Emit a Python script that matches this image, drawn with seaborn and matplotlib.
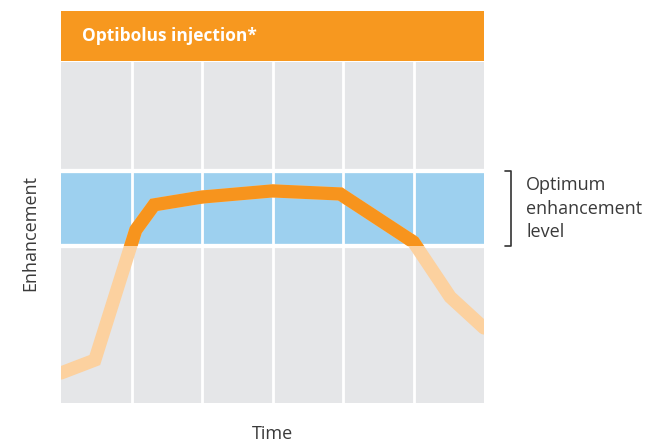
import matplotlib.pyplot as plt
import seaborn as sns
import pandas as pd

# curve (time in grid columns, enhancement 0-100)
time = [0, 0.48, 1.06, 1.32, 2.0, 3.0, 3.96, 5.0, 5.52, 6.0]
enhancement = [8.8, 12.6, 50.7, 58.1, 60.4, 62.2, 61.3, 47.2, 31.1, 22.0]
band_low, band_high = 46, 68
grid_x = [1, 2, 3, 4, 5]
header_text = "Optibolus injection*"
band_label = "Optimum\nenhancement\nlevel"

df = pd.DataFrame({"time": time, "enhancement": enhancement})

sns.set_style("white", {"axes.facecolor": "#e5e6e8"})
plt.rcParams["font.family"] = ["Open Sans", "DejaVu Sans"]

fig = plt.figure(figsize=(6.56, 4.46), dpi=100)
ax = fig.add_axes([61 / 656, 1 - 403 / 446, 423 / 656, 341 / 446])
head = fig.add_axes([61 / 656, 1 - 61 / 446, 423 / 656, 50 / 446])

# header bar
head.set_facecolor("#f7981f")
head.set_xticks([])
head.set_yticks([])
for s in head.spines.values():
    s.set_visible(False)
head.text(0.05, 0.5, header_text, color="white", fontsize=12.5,
          fontweight="bold", va="center", ha="left", transform=head.transAxes)

# optimum band
band = ax.axhspan(band_low, band_high, color="#9dd0ef", zorder=1)
for xv in grid_x:
    ax.axvline(xv, color="white", lw=2, zorder=2)
for yv in [band_low, band_high]:
    ax.axhline(yv, color="white", lw=3.1, zorder=2)

# light curve everywhere, dark curve inside the band
sns.lineplot(data=df, x="time", y="enhancement", ax=ax, color="#fcd19f",
             lw=9.5, zorder=3, sort=False)
sns.lineplot(data=df, x="time", y="enhancement", ax=ax, color="#f7941d",
             lw=9.5, zorder=4, sort=False)
for ln in ax.lines[-2:]:
    ln.set_solid_joinstyle("miter")
ax.lines[-1].set_clip_path(band)

ax.set_xlim(0, 6)
ax.set_ylim(0, 100)
ax.set_xticks([])
ax.set_yticks([])
for s in ax.spines.values():
    s.set_visible(False)
ax.set_xlabel("Time", fontsize=13, color="#3a3a3a", labelpad=16)
ax.set_ylabel("Enhancement", fontsize=13, color="#3a3a3a", labelpad=16)

# bracket on the right
ax.plot([6.3, 6.38, 6.38, 6.3], [band_high, band_high, band_low, band_low],
        color="#333333", lw=1.2, clip_on=False)
ax.text(6.6, (band_low + band_high) / 2, band_label, fontsize=13,
        color="#3a3a3a", va="center", ha="left", linespacing=1.4)

fig.savefig("out.png", dpi=100)
